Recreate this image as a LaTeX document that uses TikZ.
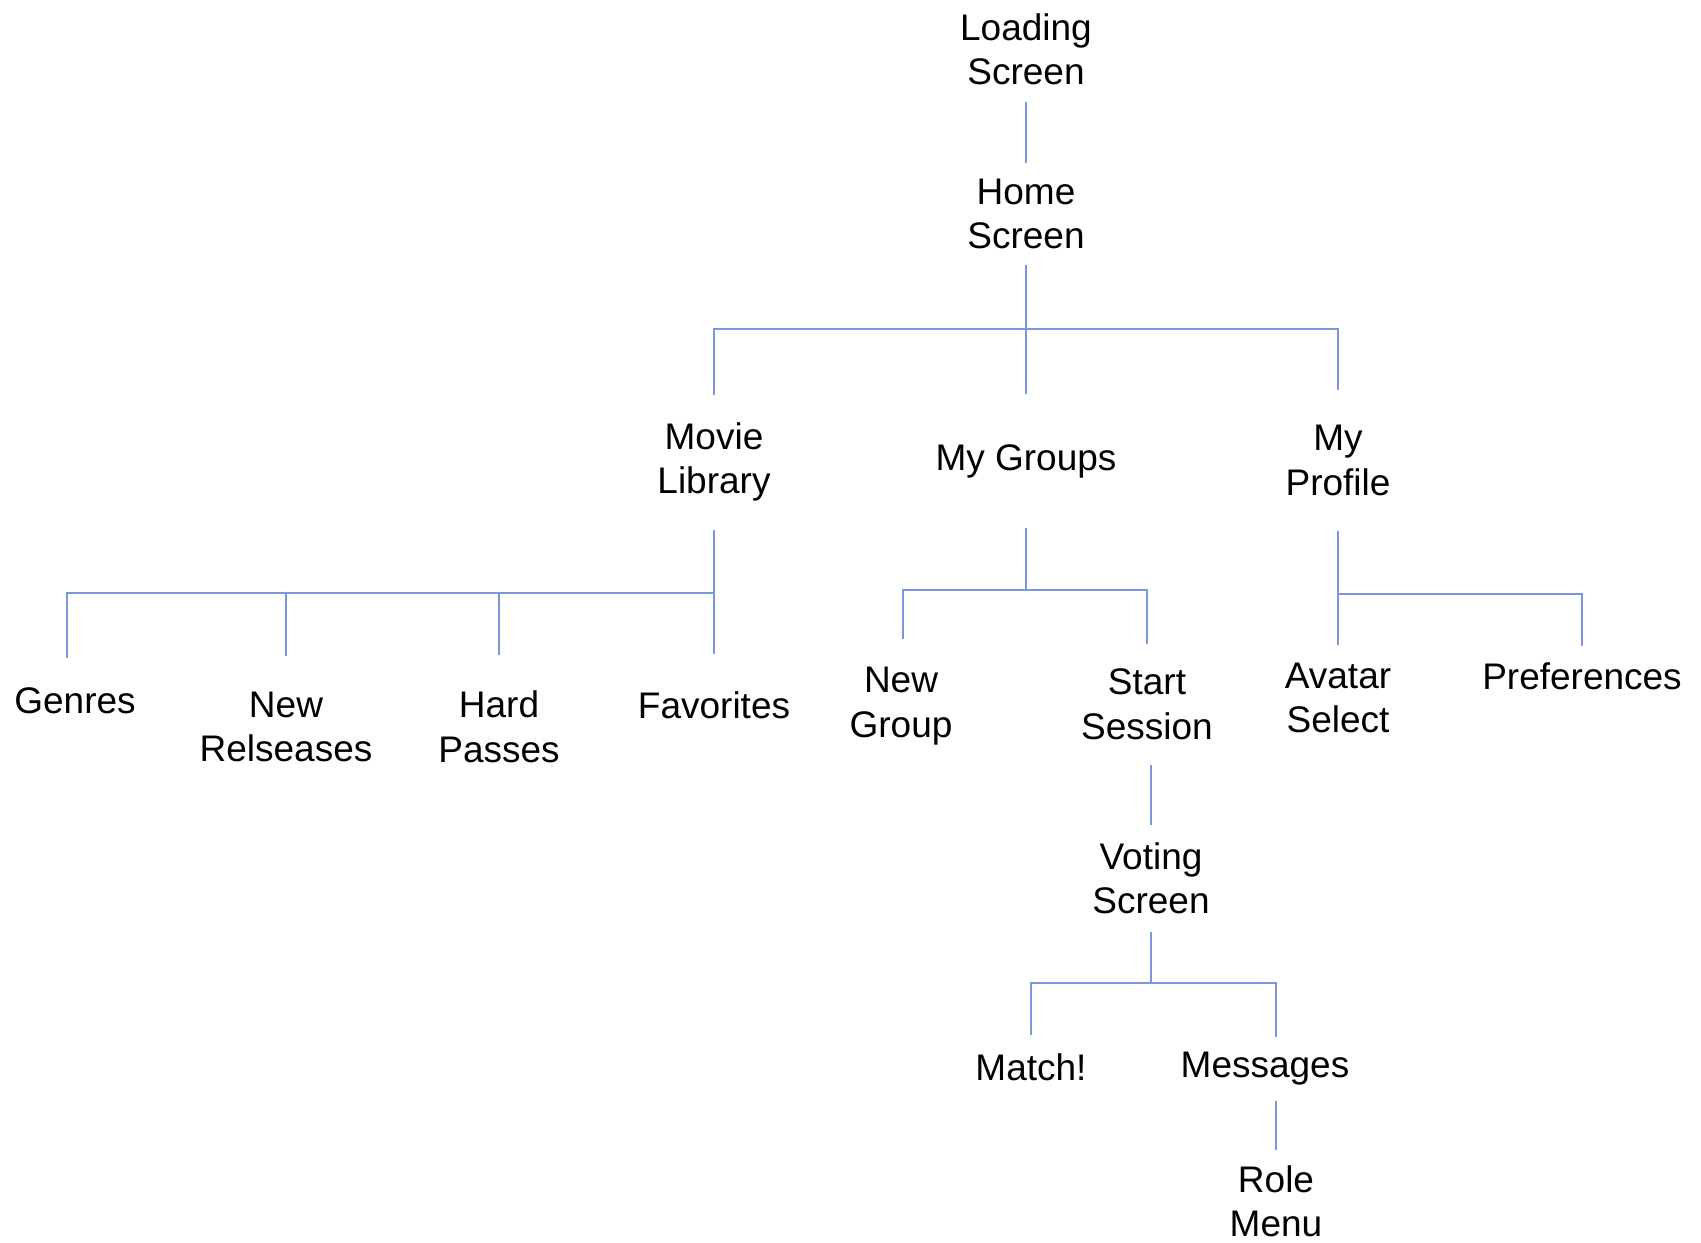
\documentclass[tikz,border=0pt]{standalone}
\usepackage{fontspec}
\setmainfont{Liberation Sans}
\definecolor{linkblue}{RGB}{122,150,220}
\tikzset{
  screen/.style={align=center,inner sep=0pt,outer ysep=8.5pt,
    font=\fontsize{18.5}{22.25}\selectfont},
  link/.style={draw=linkblue,line width=0.8pt},
}
\begin{document}
\begin{tikzpicture}[x=0.5pt,y=-0.5pt]
				\useasboundingbox (0,0) rectangle (1701,1242);
				\node[screen] (loading) at (1026,49.5) {Loading\\Screen};
				\node[screen,outer ysep=8pt] (home) at (1026,214) {Home\\Screen};
				\node[screen,outer ysep=14pt] (lib) at (714,462) {Movie\\Library};
				\node[screen,outer ysep=25pt] (grp) at (1026,461) {My Groups};
				\node[screen,outer ysep=17.5pt] (prof) at (1338,460.5) {My\\Profile};
				\node[screen,outer ysep=15pt] (genres) at (75,701) {Genres};
				\node[screen,outer ysep=18pt] (newrel) at (286,727) {New\\Relseases};
				\node[screen,outer ysep=18pt] (hard) at (499,727) {Hard\\Passes};
				\node[screen,outer ysep=18.5pt] (fav) at (714,705) {Favorites};
				\node[screen,outer ysep=14pt] (newgrp) at (901,706) {New\\Group};
				\node[screen,outer ysep=12.5pt] (start) at (1147,704.5) {Start\\Session};
				\node[screen,outer ysep=9pt] (avatar) at (1338,698) {Avatar\\Select};
				\node[screen,outer ysep=8pt] (pref) at (1582,676) {Preferences};
				\node[screen,outer ysep=9pt] (voting) at (1151,878.5) {Voting\\Screen};
				\node[screen,outer ysep=9pt] (match) at (1031,1067) {Match!};
				\node[screen,outer ysep=7.5pt] (msg) at (1265,1069) {Messages};
				\node[screen,outer ysep=8pt] (role) at (1276,1201.5) {Role\\Menu};
				% forks
				\coordinate (homefork) at (1026,329);
				\coordinate (libfork) at (714,593);
				\coordinate (grpfork) at (1026,590);
				\coordinate (proffork) at (1338,594);
				\coordinate (votefork) at (1151,983);
				% connectors
				\draw[link] (loading.south) -- (home.north);
				\draw[link] (home.south) -- (grp.north);
				\draw[link] (lib.north) |- (homefork) -| (prof.north);
				\draw[link] (lib.south) -- (fav.north);
				\draw[link] ([xshift=-4pt]genres.north) |- (libfork);
				\draw[link] (newrel.north) |- (libfork);
				\draw[link] (hard.north) |- (libfork);
				\draw[link] (grp.south) -- (grp.south |- grpfork);
				\draw[link] ([xshift=1pt]newgrp.north) |- (grpfork) -| (start.north);
				\draw[link] (prof.south) -- (avatar.north);
				\draw[link] (proffork) -| (pref.north);
				\draw[link] (voting.north) -- (voting.north |- start.south);
				\draw[link] (voting.south) -- (voting.south |- votefork);
				\draw[link] (match.north) |- (votefork) -| ([xshift=5.5pt]msg.north);
				\draw[link] (role.north) -- (role.north |- msg.south);
\end{tikzpicture}
\end{document}
